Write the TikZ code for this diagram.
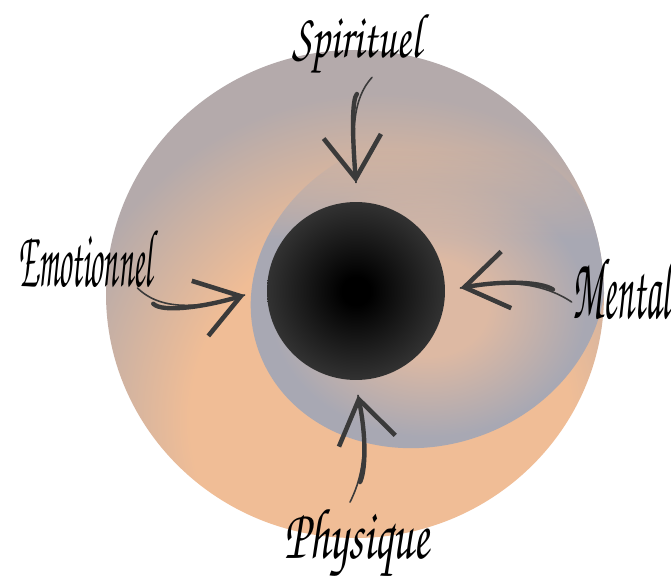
\documentclass[tikz,border=0pt]{standalone}
\usepackage{fontspec}
\usepackage{graphicx}
\usetikzlibrary{arrows.meta,fadings}
\IfFileExists{ot1pzc.fd}
  {\newcommand\brushfont{\usefont{OT1}{pzc}{mb}{it}}}
  {\newcommand\brushfont{\itshape}}

\definecolor{PeachCore}{HTML}{F0BD96}
\definecolor{MauveRim}{HTML}{B4AAAB}
\definecolor{SlateCore}{HTML}{DDB9A3}
\definecolor{SlateRim}{HTML}{A8A8B3}
\definecolor{BrushInk}{HTML}{3A3A3A}
\definecolor{CoreEdge}{HTML}{323232}

% the path's radius is 25bp
\pgfdeclareradialshading{glowshade}{\pgfpointorigin}{%
  color(0bp)=(PeachCore); color(12.5bp)=(PeachCore);
  color(21.5bp)=(MauveRim); color(25bp)=(MauveRim); color(50bp)=(MauveRim)}
\pgfdeclareradialshading{slateshade}{\pgfpointorigin}{%
  color(0bp)=(SlateCore); color(7.5bp)=(SlateCore);
  color(20bp)=(SlateRim); color(25bp)=(SlateRim); color(50bp)=(SlateRim)}
\pgfdeclareradialshading{coreshade}{\pgfpointorigin}{%
  color(0bp)=(black); color(4bp)=(black);
  color(25bp)=(CoreEdge); color(50bp)=(CoreEdge)}

\begin{tikzfadingfrompicture}[name=slatefade]
  \fill[transparent!0] (-6cm,-6cm) rectangle (6cm,1.0cm);
  \shade[bottom color=transparent!0, top color=transparent!100]
    (-6cm,1.0cm) rectangle (6cm,2.8cm);
  \fill[transparent!100] (-6cm,2.8cm) rectangle (6cm,6cm);
\end{tikzfadingfrompicture}

% word squeezed into the box the reference gives it
\newcommand\brushword[3]{\resizebox*{#1}{#2}{\brushfont #3}}

\tikzset{
  wordnode/.style={inner sep=0pt, text=black},
  brushstroke/.style={draw=BrushInk, line width=2.5pt, line cap=round,
    shorten <=0.45cm,
    preaction={draw=BrushInk, line width=0.9pt, line cap=round,
      shorten <=0pt, -},
    -{Straight Barb[length=0.85cm, width=1.15cm, line width=2.6pt]}},
}

\begin{document}
\begin{tikzpicture}[x=0.02cm, y=-0.02cm]
  \useasboundingbox[fill=white] (0,0) rectangle (671,584);

  % outer disc
  \begin{scope}
    \clip (355,294) ellipse [x radius=249, y radius=244];
    \shade[shading=glowshade] (380,420) circle [radius=380];
  \end{scope}

  % grey disc, tilted, fading out towards the upper left
  \begin{scope}
    \clip (355,294) ellipse [x radius=249, y radius=244];
    \shade[shading=slateshade, rotate around={20:(428,290)},
      path fading=slatefade, fit fading=false,
      fading transform={shift={(428,290)}}]
      (428,290) ellipse [x radius=180, y radius=155];
  \end{scope}

  % black core
  \node[circle, minimum size=3.56cm, inner sep=0pt, shade, shading=coreshade]
    (core) at (356,291) {};

  % words
  \node[wordnode] (spirit) at (357,45)  {\brushword{2.58cm}{1.28cm}{Spirituel}};
  \node[wordnode] (emo)    at (85,258)  {\brushword{2.68cm}{1.18cm}{Emotionnel}};
  \node[wordnode] (mental) at (621,287) {\brushword{1.96cm}{1.30cm}{Mental}};
  \node[wordnode] (phys)   at (357,544) {\brushword{2.90cm}{1.46cm}{Physique}};

  % arrow tips next to the core
  \coordinate (tipS) at ([yshift=0.38cm]core.north);
  \coordinate (tipE) at ([xshift=-0.44cm, yshift=-0.08cm]core.west);
  \coordinate (tipM) at ([xshift=0.3cm, yshift=0.06cm]core.east);
  \coordinate (tipP) at ([xshift=0.04cm, yshift=-0.3cm]core.south);

  % brush arrows
  \draw[brushstroke] ([xshift=0.3cm]spirit.south)
    .. controls +(-20,22) and +(-4,-50) .. (tipS);
  \draw[brushstroke] ([xshift=-0.3cm]emo.south east)
    .. controls +(25,25) and +(-40,12) .. (tipE);
  \draw[brushstroke] ([yshift=-0.3cm]mental.west)
    .. controls +(-30,-20) and +(45,-8) .. (tipM);
  \draw[brushstroke] ([xshift=-0.14cm, yshift=0.1cm]phys.north)
    .. controls +(15,-30) and +(9,45) .. (tipP);
\end{tikzpicture}
\end{document}
